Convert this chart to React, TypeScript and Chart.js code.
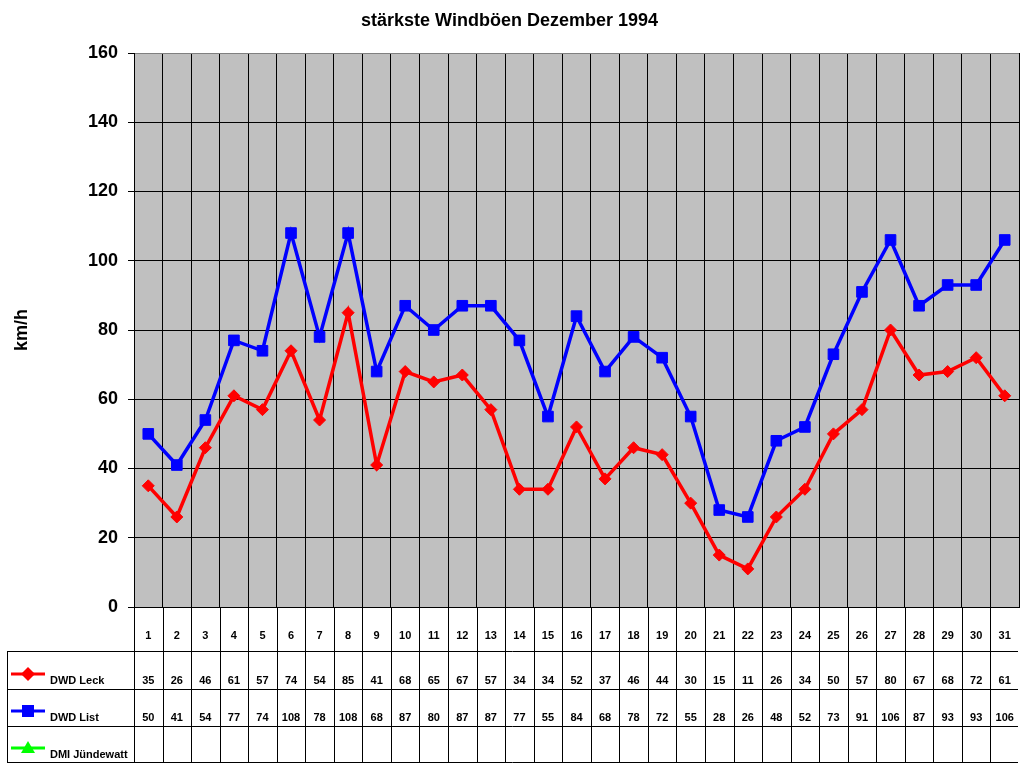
import { useEffect, useRef } from 'react';
import { Chart, registerables } from 'chart.js';

Chart.register(...registerables);

const days = Array.from({ length: 31 }, (_, i) => String(i + 1));
const dwdLeck = [35, 26, 46, 61, 57, 74, 54, 85, 41, 68, 65, 67, 57, 34, 34, 52, 37, 46, 44, 30, 15, 11, 26, 34, 50, 57, 80, 67, 68, 72, 61];
const dwdList = [50, 41, 54, 77, 74, 108, 78, 108, 68, 87, 80, 87, 87, 77, 55, 84, 68, 78, 72, 55, 28, 26, 48, 52, 73, 91, 106, 87, 93, 93, 106];
const dmiJundewatt: (number | null)[] = [];
const yTicks = [0, 20, 40, 60, 80, 100, 120, 140, 160];

const FONT = '"Liberation Sans", Arial, sans-serif';

// data table under the plot (Excel style)
const tablePlugin = {
  id: 'dataTable',
  afterDraw(chart: any) {
    const { ctx, chartArea } = chart;
    const xs = chart.scales.x;
    const n = chart.data.labels.length;
    const cw = (chartArea.right - chartArea.left) / n;
    const rowLines = [651.5, 689.5, 726.5, 762.5];
    const tableBottom = 762.5;

    ctx.save();
    ctx.strokeStyle = '#000';
    ctx.lineWidth = 1;
    ctx.beginPath();
    for (let i = 0; i < n; i++) {
      const x = Math.round(chartArea.left + i * cw) + 0.5;
      ctx.moveTo(x, chartArea.bottom);
      ctx.lineTo(x, tableBottom);
    }
    for (const y of rowLines) {
      ctx.moveTo(7, y);
      ctx.lineTo(chartArea.right - 1, y);
    }
    ctx.moveTo(7.5, rowLines[0]);
    ctx.lineTo(7.5, tableBottom);
    ctx.stroke();

    ctx.fillStyle = '#000';
    ctx.font = `bold 11px ${FONT}`;
    ctx.textAlign = 'center';
    ctx.textBaseline = 'middle';
    const rowText = [681, 718, 755];
    chart.data.labels.forEach((lab: string, i: number) => {
      const x = xs.getPixelForValue(i);
      ctx.fillText(lab, x, 636);
      chart.data.datasets.forEach((ds: any, k: number) => {
        const v = ds.data[i];
        if (v !== null && v !== undefined) ctx.fillText(String(v), x, rowText[k]);
      });
    });

    // legend keys
    const keyY = [674, 711, 748];
    chart.data.datasets.forEach((ds: any, k: number) => {
      const y = keyY[k];
      ctx.strokeStyle = ds.borderColor;
      ctx.fillStyle = ds.borderColor;
      ctx.lineWidth = 3;
      ctx.beginPath();
      ctx.moveTo(11, y);
      ctx.lineTo(45, y);
      ctx.stroke();
      ctx.beginPath();
      if (ds.pointStyle === 'rectRot') {
        ctx.moveTo(28, y - 7);
        ctx.lineTo(35, y);
        ctx.lineTo(28, y + 7);
        ctx.lineTo(21, y);
      } else if (ds.pointStyle === 'rect') {
        ctx.rect(22, y - 6, 12, 12);
      } else {
        ctx.moveTo(28, y - 7);
        ctx.lineTo(35, y + 5);
        ctx.lineTo(21, y + 5);
      }
      ctx.closePath();
      ctx.fill();
      ctx.fillStyle = '#000';
      ctx.textAlign = 'left';
      ctx.fillText(ds.label, 50, rowText[k]);
    });
    ctx.restore();
  },
};

const plotBg = {
  id: 'plotBg',
  beforeDraw(chart: any) {
    const { ctx, chartArea } = chart;
    ctx.save();
    ctx.fillStyle = '#fff';
    ctx.fillRect(0, 0, chart.width, chart.height);
    ctx.fillStyle = '#C0C0C0';
    ctx.fillRect(chartArea.left, chartArea.top, chartArea.right - chartArea.left, chartArea.bottom - chartArea.top);
    ctx.restore();
  },
};

export default function App() {
  const canvasRef = useRef<HTMLCanvasElement>(null);
  const chartRef = useRef<Chart | null>(null);

  useEffect(() => {
    if (!canvasRef.current) return;
    if (chartRef.current) chartRef.current.destroy();

    chartRef.current = new Chart(canvasRef.current, {
      type: 'line',
      data: {
        labels: days,
        datasets: [
          {
            label: 'DWD Leck',
            data: dwdLeck,
            borderColor: '#FF0000',
            backgroundColor: '#FF0000',
            borderWidth: 3.5,
            pointStyle: 'rectRot',
            pointRadius: 6,
            pointBorderWidth: 1,
            tension: 0,
          },
          {
            label: 'DWD List',
            data: dwdList,
            borderColor: '#0000FF',
            backgroundColor: '#0000FF',
            borderWidth: 3.5,
            pointStyle: 'rect',
            pointRadius: 7.5,
            pointBorderWidth: 1,
            tension: 0,
          },
          {
            label: 'DMI Jündewatt',
            data: dmiJundewatt,
            borderColor: '#00FF00',
            backgroundColor: '#00FF00',
            borderWidth: 3,
            pointStyle: 'triangle',
            pointRadius: 6,
          },
        ],
      },
      options: {
        responsive: false,
        animation: false,
        layout: { autoPadding: false, padding: { left: 0, right: 5, top: 0, bottom: 0 } },
        plugins: {
          legend: { display: false },
          tooltip: { enabled: false },
          title: {
            display: true,
            text: 'stärkste Windböen Dezember 1994',
            color: '#000',
            font: { family: FONT, size: 18, weight: 'bold', lineHeight: 1.2 },
            padding: { top: 10, bottom: 21.4 },
          },
        },
        scales: {
          x: {
            offset: true,
            grid: {
              offset: true,
              drawTicks: false,
              color: (c: any) => (c.index === days.length ? '#808080' : '#000'),
            },
            border: { color: '#000' },
            ticks: { display: false },
            afterFit: (s: any) => {
              s.height = 161;
            },
          },
          y: {
            min: 0,
            max: 160,
            afterBuildTicks: (s: any) => {
              s.ticks = yTicks.map((v) => ({ value: v }));
            },
            grid: {
              color: (c: any) => (c.tick && c.tick.value === 160 ? '#808080' : '#000'),
              tickColor: '#000',
              tickLength: 6,
            },
            border: { color: '#000' },
            ticks: {
              color: '#000',
              padding: 10,
              font: { family: FONT, size: 18, weight: 'bold' },
            },
            title: {
              display: true,
              text: 'km/h',
              color: '#000',
              font: { family: FONT, size: 18, weight: 'bold', lineHeight: 1.2 },
              padding: { top: 11, bottom: 0 },
            },
            afterFit: (s: any) => {
              s.width = 134;
            },
          },
        },
      },
      plugins: [plotBg, tablePlugin],
    });

    return () => {
      if (chartRef.current) {
        chartRef.current.destroy();
        chartRef.current = null;
      }
    };
  }, []);

  return (
    <div style={{ position: 'fixed', left: 0, top: 0, width: 1024, height: 768, background: '#fff' }}>
      <canvas ref={canvasRef} width={1024} height={768} style={{ display: 'block' }} />
    </div>
  );
}
